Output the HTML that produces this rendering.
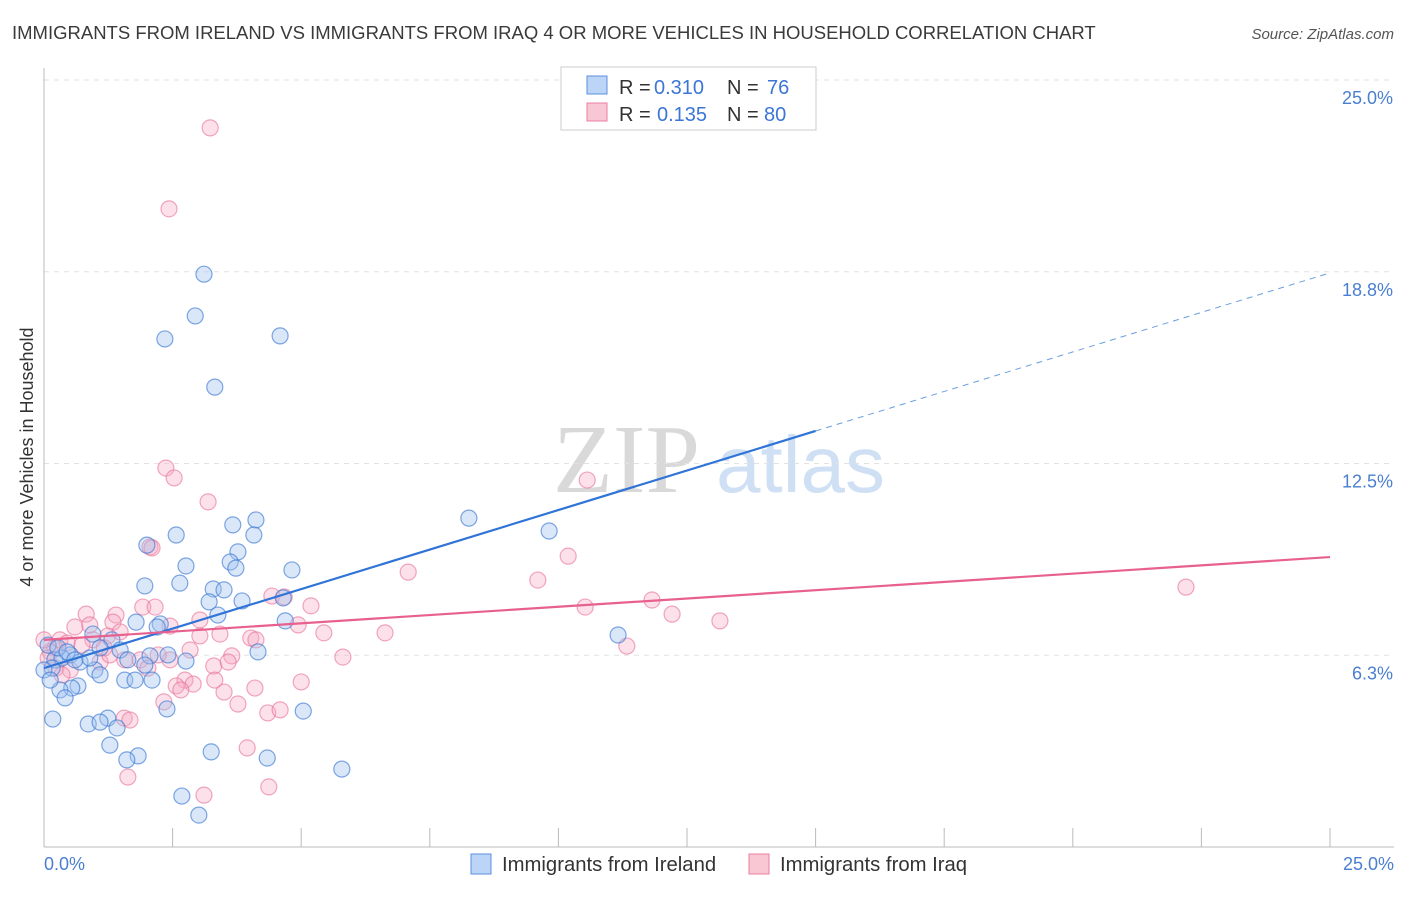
<!DOCTYPE html>
<html><head><meta charset="utf-8"><style>
body{margin:0;background:#fff;font-family:"Liberation Sans",sans-serif}
</style></head><body>
<svg id="chart" width="1406" height="892" xmlns="http://www.w3.org/2000/svg" font-family="Liberation Sans, sans-serif">
<text x="12" y="39" font-size="18.5" fill="#3a3a3a">IMMIGRANTS FROM IRELAND VS IMMIGRANTS FROM IRAQ 4 OR MORE VEHICLES IN HOUSEHOLD CORRELATION CHART</text>
<text x="1394" y="39" font-size="15" fill="#555" text-anchor="end" font-style="italic">Source: ZipAtlas.com</text>
<g>
<text x="553" y="492" font-size="98" fill="#d9d9d9" font-family="Liberation Serif, serif">ZIP</text>
<text x="716" y="492" font-size="80" fill="#cfe0f5">atlas</text>
</g>
<g id="grid"></g>
<line x1="44" y1="847" x2="1394" y2="847" stroke="#bbb"/>
<line x1="44" y1="68" x2="44" y2="847" stroke="#bbb"/>
<g id="ticks"></g>
<g id="pts"></g>
<g id="lines"></g>
<text transform="translate(33,457) rotate(-90)" font-size="18" fill="#333" text-anchor="middle">4 or more Vehicles in Household</text>
<text x="44" y="870" font-size="18" fill="#4a7fd0">0.0%</text>
<text x="1394" y="870" font-size="18" fill="#4a7fd0" text-anchor="end">25.0%</text>
<g>
<rect x="561" y="67" width="255" height="63" fill="#fff" stroke="#ccc"/>
<rect x="587" y="76" width="20" height="18" fill="#bcd4f5" stroke="#5b8fe0"/>
<rect x="587" y="103" width="20" height="18" fill="#f9c6d4" stroke="#e97fa0"/>
<text x="619" y="94" font-size="20" fill="#333">R =</text>
<text x="654" y="94" font-size="20" fill="#3b76d6">0.310</text>
<text x="727" y="94" font-size="20" fill="#333">N =</text>
<text x="767" y="94" font-size="20" fill="#3b76d6">76</text>
<text x="619" y="121" font-size="20" fill="#333">R =</text>
<text x="657" y="121" font-size="20" fill="#3b76d6">0.135</text>
<text x="727" y="121" font-size="20" fill="#333">N =</text>
<text x="764" y="121" font-size="20" fill="#3b76d6">80</text>
</g>
<g>
<rect x="471" y="854" width="20" height="20" fill="#bcd4f5" stroke="#5b8fe0"/>
<text x="502" y="871" font-size="20.3" fill="#333">Immigrants from Ireland</text>
<rect x="749" y="854" width="20" height="20" fill="#f9c6d4" stroke="#e97fa0"/>
<text x="780" y="871" font-size="20.3" fill="#333">Immigrants from Iraq</text>
</g>
</svg>
<script>
const yTicks=[6.25,12.5,18.75,25];
const yTickLabels=["6.3%","12.5%","18.8%","25.0%"];
const xTicks=[0,2.5,5,7.5,10,12.5,15,17.5,20,22.5,25];
const irelandX=[3.11,2.94,2.35,4.59,3.32,8.26,9.82,4.12,3.67,2.57,2.00,4.08,3.77,3.62,2.76,4.82,3.73,1.96,2.64,3.29,3.50,3.21,3.85,4.65,3.38,1.79,2.26,2.20,4.69,11.16,0.95,1.32,4.16,1.09,1.48,2.06,2.41,2.76,0.51,0.21,0.35,0.70,0.99,1.63,1.96,0.16,1.09,1.57,1.77,2.10,0.66,0.54,0.31,0.41,2.39,5.04,0.17,1.24,0.86,1.09,1.42,1.28,1.83,1.61,3.25,4.34,5.79,2.68,3.01,0.08,0.27,0.45,0.60,0.89,0.0,0.12];
const irelandY=[18.67,17.31,16.56,16.66,14.99,10.72,10.30,10.66,10.50,10.17,9.84,10.17,9.62,9.29,9.16,9.03,9.09,8.51,8.60,8.41,8.38,7.99,8.02,8.12,7.56,7.33,7.27,7.17,7.37,6.91,6.94,6.75,6.36,6.49,6.42,6.23,6.26,6.06,6.26,6.10,6.16,6.03,5.77,6.10,5.93,5.83,5.61,5.44,5.44,5.44,5.25,5.18,5.12,4.86,4.50,4.43,4.17,4.20,4.01,4.07,3.88,3.32,2.97,2.84,3.10,2.90,2.54,1.66,1.04,6.58,6.49,6.36,6.10,6.16,5.77,5.44];
const iraqX=[3.23,2.43,2.37,2.53,3.19,10.56,2.06,2.10,10.19,7.08,9.60,22.20,4.43,5.19,4.67,10.52,11.82,12.21,13.14,1.92,2.16,0.82,1.40,1.34,0.60,2.45,4.94,5.44,6.63,4.02,4.12,3.03,3.42,11.33,1.24,0.95,0.31,0.45,0.21,0.12,1.17,1.57,2.45,2.22,1.87,3.65,5.81,3.30,3.58,1.09,0.23,0.51,2.74,2.90,2.57,5.00,2.66,3.50,4.10,2.33,3.77,4.35,4.59,1.56,1.67,3.95,1.63,4.37,3.11,0.0,0.08,0.74,1.28,2.02,0.35,3.03,2.84,3.32,0.89,1.48];
const iraqY=[23.44,20.80,12.35,12.03,11.25,11.96,9.78,9.75,9.48,8.96,8.70,8.47,8.18,7.86,8.15,7.82,8.05,7.59,7.37,7.82,7.82,7.59,7.56,7.33,7.17,7.20,7.24,6.98,6.98,6.81,6.75,6.88,6.94,6.55,6.88,6.75,6.75,6.65,6.49,6.36,6.49,6.10,6.10,6.26,6.10,6.23,6.19,5.90,6.03,6.03,5.83,5.77,5.44,5.31,5.25,5.38,5.12,5.05,5.18,4.73,4.66,4.37,4.47,4.20,4.14,3.23,2.28,1.96,1.69,6.75,6.16,6.58,6.26,5.83,5.61,7.40,6.42,5.44,7.24,7.01];
const irelandTrend=[5.83,13.56];
const iraqTrend=[6.75,9.45];
const NS="http://www.w3.org/2000/svg";
const X=v=>44+v*(1330-44)/25;
const Y=v=>847-v*(847-80)/25;
function mk(tag,attrs,parent){const e=document.createElementNS(NS,tag);for(const k in attrs)e.setAttribute(k,attrs[k]);document.getElementById(parent).appendChild(e);return e;}
yTicks.forEach((t,i)=>{
 const g=mk('line',{x1:44,x2:1394,y1:Y(t),y2:Y(t),stroke:'#e2e2e2','stroke-dasharray':'5,5'},'grid');
 
 
 const l=mk('text',{x:1393,y:Y(t)+24,'font-size':18,fill:'#4a7fd0','text-anchor':'end'},'ticks');
 l.textContent=yTickLabels[i];
 
 
});
xTicks.forEach(t=>{
 const l=mk('line',{x1:X(t),x2:X(t),y1:828,y2:847,stroke:'#bbb'},'ticks');
 
 
});
iraqX.forEach((x,i)=>{
 const c=mk('circle',{cx:X(x),cy:Y(iraqY[i]),r:8,fill:'rgba(246,170,195,0.35)',stroke:'rgba(232,110,150,0.6)','stroke-width':1.2},'pts');
 
 
});
irelandX.forEach((x,i)=>{
 const c=mk('circle',{cx:X(x),cy:Y(irelandY[i]),r:8,fill:'rgba(160,195,240,0.4)',stroke:'rgba(60,120,210,0.65)','stroke-width':1.2},'pts');
 
 
});
const bl=mk('line',{x1:X(0),y1:Y(irelandTrend[0]),x2:X(15),y2:Y(irelandTrend[1]),stroke:'#2f74d6','stroke-width':2.2},'lines');


const slope=(irelandTrend[1]-irelandTrend[0])/15;
const bd=mk('line',{x1:X(15),y1:Y(irelandTrend[1]),x2:X(25),y2:Y(irelandTrend[0]+slope*25),stroke:'#6a9ee0','stroke-width':1,'stroke-dasharray':'6,5'},'lines');


const pl=mk('line',{x1:X(0),y1:Y(iraqTrend[0]),x2:X(25),y2:Y(iraqTrend[1]),stroke:'#e8608e','stroke-width':2.2},'lines');


</script>
</body></html>
